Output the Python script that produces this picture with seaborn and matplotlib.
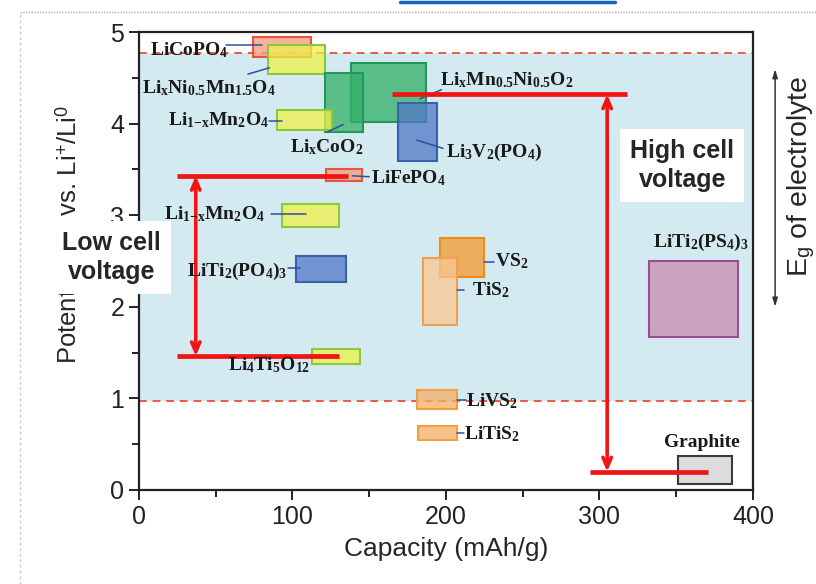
"""
Cathode / anode materials: potential window vs. capacity.
"""
import matplotlib

matplotlib.use("Agg")
import matplotlib.pyplot as plt
import numpy as np
import seaborn as sns
from matplotlib.colors import to_rgba
from matplotlib.lines import Line2D

# Data (capacity in mAh/g, potential in V vs. Li+/Li0)
MATERIALS = [
    "LiCoPO4", "LiNi0.5Mn1.5O4", "LixMn0.5Ni0.5O2", "LixCoO2", "Li3V2(PO4)",
    "Li1-xMn2O4 (4V)", "LiFePO4", "Li1-xMn2O4 (3V)", "LiTi2(PO4)3",
    "Li4Ti5O12", "VS2", "TiS2", "LiTi2(PS4)3", "LiVS2", "LiTiS2", "Graphite",
]
CAP_LOW = [74, 84, 138, 121, 169, 90, 122, 93, 102, 113, 196, 185, 332, 181, 182, 351]
CAP_HIGH = [112, 121, 187, 146, 194, 126, 145, 130, 135, 144, 225, 207, 390, 207, 207, 386]
VOLT_LOW = [4.73, 4.54, 4.02, 3.91, 3.59, 3.93, 3.37, 2.87, 2.27, 1.38, 2.33, 1.80, 1.67, 0.88, 0.55, 0.07]
VOLT_HIGH = [4.95, 4.86, 4.66, 4.55, 4.22, 4.15, 3.50, 3.12, 2.55, 1.54, 2.75, 2.53, 2.50, 1.09, 0.70, 0.37]

# Electrolyte window
WINDOW_LOW = 0.97
WINDOW_HIGH = 4.77

# Cell voltage guides: (x start, x end, level)
HIGH_TOP = (165, 318, 4.32)
HIGH_BOTTOM = (294, 371, 0.20)
LOW_TOP = (25, 136, 3.43)
LOW_BOTTOM = (25, 130, 1.46)
HIGH_ARROW_X = 305
LOW_ARROW_X = 37

# Styles
FACE = {
    "salmon": "#f49a7c", "yellow": "#eef04a", "green": "#34b068",
    "blue": "#5278c6", "orange": "#f39a30", "peach": "#f8c892",
    "lorange": "#f4ae68", "purple": "#c98db0", "gray": "#d2d2d2",
}
EDGE = {
    "salmon": "#e8553c", "yellow": "#8dc63f", "green": "#22975a",
    "blue": "#3a5fb0", "orange": "#f08a1c", "peach": "#f0a050",
    "lorange": "#f0a040", "purple": "#9c4d90", "gray": "#3a3a3a",
}
BOX_STYLE = [
    "salmon", "yellow", "green", "green", "blue", "yellow", "salmon", "yellow",
    "blue", "yellow", "orange", "peach", "purple", "lorange", "lorange", "gray",
]

# Material labels: text, x, y, alignment
LABELS = [
    ("LiCoPO$_4$", 7, 4.80, "left"),
    ("Li$_x$Ni$_{0.5}$Mn$_{1.5}$O$_4$", 2, 4.39, "left"),
    ("Li$_x$Mn$_{0.5}$Ni$_{0.5}$O$_2$", 196, 4.47, "left"),
    ("Li$_x$CoO$_2$", 122, 3.74, "center"),
    ("Li$_3$V$_2$(PO$_4$)", 200, 3.68, "left"),
    ("Li$_{1\\mathrm{-}x}$Mn$_2$O$_4$", 19, 4.04, "left"),
    ("LiFePO$_4$", 151, 3.40, "left"),
    ("Li$_{1\\mathrm{-}x}$Mn$_2$O$_4$", 16, 3.01, "left"),
    ("LiTi$_2$(PO$_4$)$_3$", 31, 2.39, "left"),
    ("Li$_4$Ti$_5$O$_{12}$", 85, 1.36, "center"),
    ("VS$_2$", 232, 2.50, "left"),
    ("TiS$_2$", 217, 2.18, "left"),
    ("LiTi$_2$(PS$_4$)$_3$", 366, 2.70, "center"),
    ("LiVS$_2$", 213, 0.97, "left"),
    ("LiTiS$_2$", 212, 0.61, "left"),
    ("Graphite", 367, 0.52, "center"),
]
# Leader lines: x0, x1, y0, y1
LEADERS = [
    (57, 80, 4.86, 4.86),
    (71, 85, 4.54, 4.61),
    (183, 197, 4.27, 4.37),
    (123, 133, 3.91, 3.99),
    (181, 198, 3.82, 3.73),
    (85, 93, 4.03, 4.03),
    (139, 150, 3.43, 3.42),
    (86, 109, 3.01, 3.01),
    (97, 105, 2.42, 2.42),
    (225, 231, 2.49, 2.49),
    (207, 212, 2.18, 2.18),
    (207, 213, 0.98, 0.98),
    (207, 212, 0.62, 0.62),
]

sns.set_style("ticks")
plt.rcParams["font.family"] = ["Liberation Sans", "DejaVu Sans"]
plt.rcParams["mathtext.fontset"] = "custom"
plt.rcParams["mathtext.rm"] = "Liberation Serif:bold"
plt.rcParams["mathtext.it"] = "Liberation Serif:bold"
plt.rcParams["mathtext.bf"] = "Liberation Serif:bold"
plt.rcParams["mathtext.sf"] = "Liberation Sans"

fig = plt.figure(figsize=(8.16, 5.84), dpi=100)
ax = fig.add_axes([0.1703, 0.161, 0.7525, 0.7842])

# Electrolyte window shading and limits
ax.axhspan(WINDOW_LOW, WINDOW_HIGH, color="#d4eaf1", zorder=0, lw=0)
for level in (WINDOW_LOW, WINDOW_HIGH):
    ax.axhline(level, color="#ea5a45", lw=1.4, ls=(0, (4, 3)), zorder=1)

# Material boxes
cap_low = np.array(CAP_LOW, dtype=float)
cap_high = np.array(CAP_HIGH, dtype=float)
volt_low = np.array(VOLT_LOW)
volt_high = np.array(VOLT_HIGH)
ax.bar(
    cap_low,
    volt_high - volt_low,
    width=cap_high - cap_low,
    bottom=volt_low,
    align="edge",
    color=[to_rgba(FACE[s], 0.76) for s in BOX_STYLE],
    edgecolor=[EDGE[s] for s in BOX_STYLE],
    linewidth=1.5,
    zorder=2,
)

# Leaders and labels
for x0, x1, y0, y1 in LEADERS:
    ax.plot([x0, x1], [y0, y1], color="#2f4f9f", lw=1.1, zorder=3)
for text, x, y, ha in LABELS:
    ax.text(x, y, text, ha=ha, va="center", fontsize=14,
            family="Liberation Serif", fontweight="bold", color="#1a1a1a",
            zorder=5)

# Red cell voltage guides
red = "#f01414"
for x0, x1, y in (HIGH_TOP, HIGH_BOTTOM, LOW_TOP, LOW_BOTTOM):
    ax.hlines(y, x0, x1, color=red, lw=3.4, zorder=4)
arrow = dict(arrowstyle="<->,head_length=0.7,head_width=0.3", color=red,
             lw=2.6, shrinkA=0, shrinkB=0)
ax.annotate("", xy=(HIGH_ARROW_X, HIGH_TOP[2]), xytext=(HIGH_ARROW_X, HIGH_BOTTOM[2]),
            arrowprops=arrow, zorder=4)
ax.annotate("", xy=(LOW_ARROW_X, LOW_TOP[2]), xytext=(LOW_ARROW_X, LOW_BOTTOM[2]),
            arrowprops=arrow, zorder=4)

box = dict(boxstyle="square,pad=0.4", fc="white", ec="none")
ax.text(-18, 2.54, "Low cell\nvoltage", ha="center", va="center",
        fontsize=18, fontweight="bold", linespacing=1.25, bbox=box,
        zorder=10, clip_on=False)
ax.text(354, 3.54, "High cell\nvoltage", ha="center", va="center",
        fontsize=18, fontweight="bold", linespacing=1.25, bbox=box,
        zorder=10, clip_on=False)

# Axes
ax.set_xlim(0, 400)
ax.set_ylim(0, 5)
ax.set_xticks([0, 100, 200, 300, 400])
ax.set_xticks([50, 150, 250, 350], minor=True)
ax.set_yticks([0, 1, 2, 3, 4, 5])
ax.set_yticks([0.5, 1.5, 2.5, 3.5, 4.5], minor=True)
ax.tick_params(which="both", direction="out", width=1.4, colors="#222222",
               labelsize=18)
ax.tick_params(which="major", length=7)
ax.tick_params(which="minor", length=5)
for spine in ax.spines.values():
    spine.set_visible(True)
    spine.set_linewidth(1.6)
    spine.set_color("#222222")
ax.set_xlabel("Capacity (mAh/g)", fontsize=19, labelpad=6)
ax.set_ylabel("Potential (V) vs. Li$^{\\mathsf{+}}$/Li$^{\\mathsf{0}}$",
              fontsize=18.5)
ax.yaxis.set_label_coords(-0.09, 0.557)

# Electrolyte window marker on the right
ax.annotate("", xy=(1.036, 0.919), xytext=(1.036, 0.40), xycoords="axes fraction",
            arrowprops=dict(arrowstyle="<|-|>,head_length=0.5,head_width=0.15",
                            color="#333333", lw=1.1, shrinkA=0, shrinkB=0))
ax.text(1.079, 0.685, "E$_{\\mathsf{g}}$ of electrolyte", transform=ax.transAxes,
        rotation=90, ha="center", va="center", fontsize=20.5)

# Screenshot frame
fig.add_artist(Line2D([0.025, 1.0], [0.979, 0.979], transform=fig.transFigure,
                      color="#b0b0b0", lw=1.0, ls=(0, (1, 1))))
fig.add_artist(Line2D([0.025, 0.025], [0.0, 0.979], transform=fig.transFigure,
                      color="#c8c8c8", lw=1.0, ls=(0, (2, 2))))
fig.add_artist(Line2D([0.49, 0.754], [0.996, 0.996], transform=fig.transFigure,
                      color="#1565c0", lw=2.5))

fig.savefig("out.png", dpi=100)
